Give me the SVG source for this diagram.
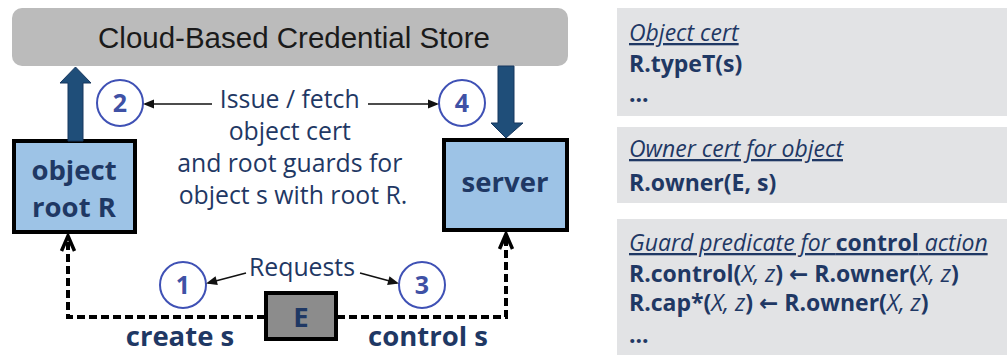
<svg xmlns="http://www.w3.org/2000/svg" width="1007" height="355" viewBox="0 0 1007 355">
  <style>
    .label { font-family: "Open Sans", "Noto Sans", sans-serif; fill: #1f3864; }
    .big { font-size: 24.8px; }
    .bold { font-weight: bold; }
    .node-text { font-family: "Open Sans", "Noto Sans", sans-serif; font-size: 27.5px; font-weight: bold; fill: #1f3864; }
    .box { fill: #9dc3e6; stroke: #000; stroke-width: 4; }
    .step { fill: #fff; stroke: #3f51b5; stroke-width: 2; }
    .step-num { font-family: "Open Sans", "Noto Sans", sans-serif; font-size: 25px; font-weight: bold; fill: #3f51a5; }
    .thin { stroke: #111; stroke-width: 1.6; fill: none; }
    .dash { stroke: #000; stroke-width: 4; fill: none; stroke-dasharray: 8 4; }
    .block { fill: #1f4e79; stroke: #17375e; stroke-width: 1; }
    .panel { fill: #e2e3e5; }
    .ptext { font-family: "Open Sans", "Noto Sans", sans-serif; font-size: 23px; fill: #1f3864; }
    .ul { font-style: italic; text-decoration: underline; }
    .var { font-style: italic; font-weight: normal; }
    .arrow { font-family: "DejaVu Sans", sans-serif; font-weight: bold; }
  </style>
  <defs>
    <marker id="tri" markerUnits="userSpaceOnUse" markerWidth="12" markerHeight="10" refX="0" refY="0" orient="auto" overflow="visible">
      <path d="M2,0 L-9,-4.5 L-9,4.5 Z" fill="#111"/>
    </marker>
    <marker id="chev" markerUnits="userSpaceOnUse" markerWidth="16" markerHeight="16" refX="0" refY="0" orient="auto" overflow="visible">
      <path d="M-15,-6.5 L0,0 L-15,6.5" fill="none" stroke="#000" stroke-width="3.5" stroke-linejoin="miter"/>
    </marker>
  </defs>

  <rect width="1007" height="355" fill="#fff"/>

  <!-- credential store -->
  <g id="store">
    <rect x="12" y="8" width="556" height="58" rx="10" fill="#bbbbbb"/>
    <text x="294" y="47.5" text-anchor="middle" font-family="Liberation Sans, Arial, sans-serif" font-size="29.5" fill="#1a1a1a">Cloud-Based Credential Store</text>
  </g>

  <!-- object root -->
  <g id="object-root">
    <rect class="box" x="14" y="141" width="121" height="91"/>
    <text class="node-text" x="74" y="180" text-anchor="middle">object</text>
    <text class="node-text" x="74" y="217" text-anchor="middle">root R</text>
  </g>

  <!-- server -->
  <g id="server">
    <rect class="box" x="444" y="140" width="123" height="90"/>
    <text class="node-text" x="505" y="192" text-anchor="middle">server</text>
  </g>

  <!-- entity E -->
  <g id="entity">
    <rect x="266" y="293" width="70" height="46" fill="#8c8c8c" stroke="#000" stroke-width="4"/>
    <text class="node-text" x="301" y="327" text-anchor="middle">E</text>
  </g>

  <!-- numbered steps -->
  <g id="step-1">
    <circle class="step" cx="183" cy="285" r="23"/>
    <text class="step-num" x="183" y="294" text-anchor="middle">1</text>
  </g>
  <g id="step-2">
    <circle class="step" cx="120" cy="103" r="23"/>
    <text class="step-num" x="120" y="112" text-anchor="middle">2</text>
  </g>
  <g id="step-3">
    <circle class="step" cx="422" cy="285" r="23"/>
    <text class="step-num" x="422" y="294" text-anchor="middle">3</text>
  </g>
  <g id="step-4">
    <circle class="step" cx="462" cy="103" r="23"/>
    <text class="step-num" x="462" y="112" text-anchor="middle">4</text>
  </g>

  <!-- captions -->
  <g id="captions">
    <text class="label big" text-anchor="middle">
      <tspan x="293" y="108">Issue / fetch</tspan>
      <tspan x="293" y="140">object cert</tspan>
      <tspan x="293" y="172">and root guards for</tspan>
      <tspan x="293" y="204">object s with root R.</tspan>
    </text>
    <text class="label big" x="302" y="276" text-anchor="middle">Requests</text>
    <text class="node-text" x="180" y="346" text-anchor="middle">create s</text>
    <text class="node-text" x="428" y="346" text-anchor="middle">control s</text>
  </g>

  <!-- connectors -->
  <g id="connectors">
    <polygon class="block" points="68,141 83,141 83,83 91,83 75.5,67 60,83 68,83"/>
    <polygon class="block" points="498,66 514,66 514,123 523,123 506,138 491,123 498,123"/>
    <line class="thin" x1="212" y1="104" x2="145" y2="104" marker-end="url(#tri)"/>
    <line class="thin" x1="368" y1="104" x2="437" y2="104" marker-end="url(#tri)"/>
    <line class="thin" x1="246" y1="273" x2="208" y2="283" marker-end="url(#tri)"/>
    <line class="thin" x1="360" y1="273" x2="397" y2="283" marker-end="url(#tri)"/>
    <path class="dash" d="M265,317 H68 V236" marker-end="url(#chev)"/>
    <path class="dash" d="M337,317 H506 V234" marker-end="url(#chev)"/>
  </g>

  <!-- certificate panels -->
  <g id="panel-object-cert">
    <rect class="panel" x="617" y="8" width="390" height="108"/>
    <text class="ptext ul" x="629" y="41">Object cert</text>
    <text class="ptext bold" x="629" y="72">R.typeT(s)</text>
    <text class="ptext bold" x="629" y="102">...</text>
  </g>
  <g id="panel-owner-cert">
    <rect class="panel" x="617" y="127" width="390" height="76"/>
    <text class="ptext ul" x="629" y="157">Owner cert for object</text>
    <text class="ptext bold" x="629" y="191">R.owner(E, s)</text>
  </g>
  <g id="panel-guard">
    <rect class="panel" x="617" y="219" width="390" height="136"/>
    <text class="ptext ul" x="629" y="251">Guard predicate for <tspan font-weight="bold" font-style="normal">control</tspan> action </text>
    <text class="ptext bold" x="629" y="282">R.control(<tspan class="var">X, z</tspan>) <tspan class="arrow">←</tspan> R.owner(<tspan class="var">X, z</tspan>)</text>
    <text class="ptext bold" x="629" y="311">R.cap*(<tspan class="var">X, z</tspan>) <tspan class="arrow">←</tspan> R.owner(<tspan class="var">X, z</tspan>)</text>
    <text class="ptext bold" x="629" y="343">...</text>
  </g>
</svg>
